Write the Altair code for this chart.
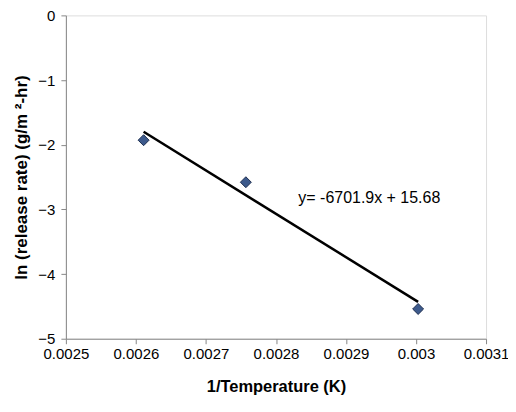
import altair as alt
import pandas as pd

# measured points
inv_temp = [0.002611, 0.002757, 0.003003]
ln_rate = [-1.93, -2.58, -4.54]

# trend line endpoints
trend_x = [0.002611, 0.003003]
trend_y = [-1.80, -4.43]

x_ticks = [0.0025, 0.0026, 0.0027, 0.0028, 0.0029, 0.0030, 0.0031]
y_ticks = [-5, -4, -3, -2, -1, 0]

eq_label = ["y= -6701.9x + 15.68"]
eq_x = [0.002832]
eq_y = [-2.82]

pts = pd.DataFrame({"x": inv_temp, "y": ln_rate})
trend = pd.DataFrame({"x": trend_x, "y": trend_y})
eq = pd.DataFrame({"x": eq_x, "y": eq_y, "t": eq_label})

xscale = alt.Scale(domain=[0.0025, 0.0031], nice=False, zero=False)
yscale = alt.Scale(domain=[-5, 0], nice=False, zero=False)

xaxis = alt.Axis(values=x_ticks, labelExpr="format(datum.value, '.4~f')",
                 title="1/Temperature (K)", titleFontWeight="bold", grid=False,
                 titleFontSize=16.5, labelFontSize=15, labelPadding=3,
                 titlePadding=17, labelFlush=False)
yaxis = alt.Axis(values=y_ticks, format="d", grid=False,
                 title="ln (release rate) (g/m ²-hr)", titleFontWeight="bold",
                 titleFontSize=17, labelFontSize=15, labelPadding=6,
                 titlePadding=7)

line = alt.Chart(trend).mark_line(color="black", strokeWidth=2.5).encode(
    x=alt.X("x:Q", scale=xscale, axis=xaxis),
    y=alt.Y("y:Q", scale=yscale, axis=yaxis),
)

points = alt.Chart(pts).mark_point(shape="diamond", filled=True, size=120,
                                   color="#3d5a8c", stroke="#1f2f50",
                                   strokeWidth=1, opacity=1).encode(
    x=alt.X("x:Q", scale=xscale),
    y=alt.Y("y:Q", scale=yscale),
)

text = alt.Chart(eq).mark_text(align="left", baseline="middle", fontSize=16,
                               font="Liberation Sans", color="black").encode(
    x=alt.X("x:Q", scale=xscale),
    y=alt.Y("y:Q", scale=yscale),
    text="t:N",
)

chart = (line + points + text).properties(
    width=421, height=324,
    autosize=alt.AutoSizeParams(type="none"),
    padding={"left": 58, "top": 7, "right": 22, "bottom": 64},
).configure_axis(
    grid=False, domainColor="black", domainWidth=1.5, tickColor="black",
    tickSize=5, labelColor="black", titleColor="black",
    labelFont="Liberation Sans", titleFont="Liberation Sans",
).configure_view(stroke="#888888", strokeWidth=1).configure(background="white")

chart.save("out.html", embed_options={"renderer": "svg", "actions": False})
